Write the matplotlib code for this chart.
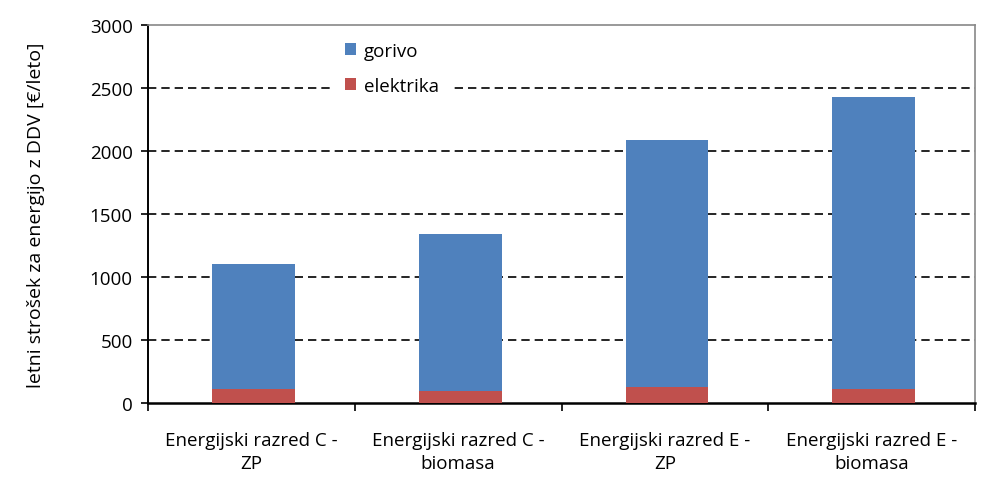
import matplotlib

matplotlib.use("Agg")
import matplotlib.pyplot as plt
import numpy as np

CATEGORIES = [
    "Energijski razred C -\nZP",
    "Energijski razred C -\nbiomasa",
    "Energijski razred E -\nZP",
    "Energijski razred E -\nbiomasa",
]
ELEKTRIKA = [111, 93, 124, 111]
GORIVO = [992, 1248, 1963, 2315]
Y_TICKS = [0, 500, 1000, 1500, 2000, 2500, 3000]

plt.rcParams["font.family"] = ["Open Sans", "DejaVu Sans"]

fig = plt.figure(figsize=(10, 4.89), dpi=100)
ax = fig.add_axes([0.148, 0.174, 0.827, 0.773])

x = np.arange(len(CATEGORIES))
ax.bar(x + 0.01, ELEKTRIKA, width=0.4, color="#C0504D", label="elektrika", zorder=3)
ax.bar(x + 0.01, GORIVO, width=0.4, bottom=ELEKTRIKA, color="#4F81BD", label="gorivo", zorder=3)

ax.set_xlim(-0.5, len(CATEGORIES) - 0.5)
ax.set_ylim(0, 3000)
ax.set_yticks(Y_TICKS)
ax.tick_params(axis="y", labelsize=13.5, length=5, direction="out", width=1.2, pad=6)
ax.set_xticks(x)
ax.set_xticklabels(CATEGORIES, fontsize=13.5, linespacing=1.35)
ax.tick_params(axis="x", length=0, pad=20)
ax.set_xticks(np.arange(len(CATEGORIES) + 1) - 0.5, minor=True)
ax.tick_params(axis="x", which="minor", length=6, width=1.2, direction="out")

# gridlines below the top border (3000 line is drawn by the frame)
for level in Y_TICKS[1:-1]:
    ax.axhline(level, color="black", linestyle=(0, (5, 3)), linewidth=1.2, zorder=1)

ax.spines["top"].set_color("#888888")
ax.spines["right"].set_color("#888888")
ax.spines["top"].set_linewidth(1.2)
ax.spines["right"].set_linewidth(1.2)
ax.spines["left"].set_linewidth(1.4)
ax.spines["bottom"].set_linewidth(1.8)

ax.set_ylabel("letni strošek za energijo z DDV [€/leto]", fontsize=14, labelpad=32)

handles, labels = ax.get_legend_handles_labels()
leg = ax.legend(
    handles[::-1],
    labels[::-1],
    loc="upper left",
    bbox_to_anchor=(0.213, 1.01),
    frameon=True,
    fontsize=13.5,
    handlelength=0.6,
    handleheight=0.6,
    handletextpad=0.4,
    labelspacing=0.9,
    borderpad=0.6,
)
leg.get_frame().set_edgecolor("none")
leg.get_frame().set_facecolor("white")
leg.get_frame().set_alpha(1.0)
leg.set_zorder(5)

fig.savefig("out.png", dpi=100)
